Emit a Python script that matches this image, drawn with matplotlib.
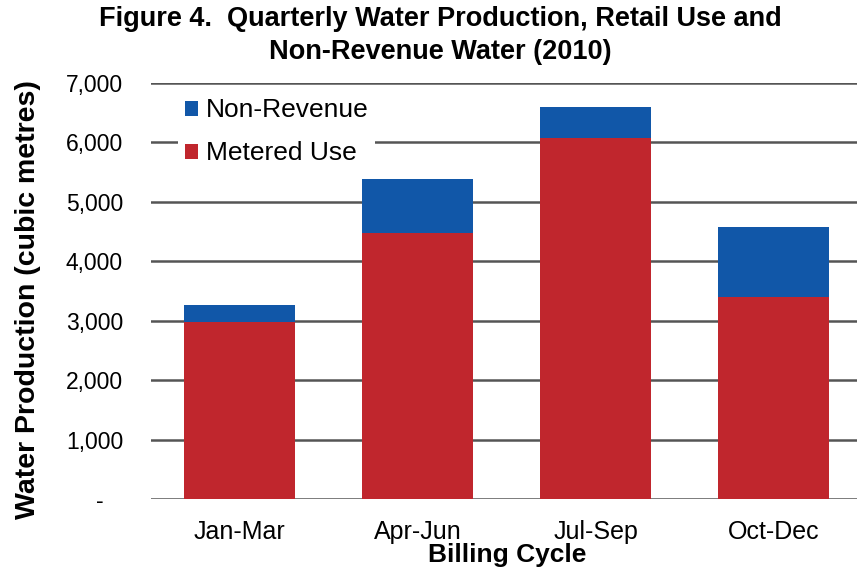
import matplotlib.pyplot as plt
from matplotlib.ticker import FuncFormatter

quarters = ["Jan-Mar", "Apr-Jun", "Jul-Sep", "Oct-Dec"]
metered_use = [2975, 4475, 6075, 3400]
non_revenue = [290, 905, 520, 1175]

red, blue = "#C0262D", "#1157A8"

plt.rcParams["font.family"] = ["Liberation Sans", "DejaVu Sans"]

fig = plt.figure(figsize=(8.57, 5.67), dpi=100)
ax = fig.add_axes([0.176, 0.12, 0.824, 0.734])

x = range(len(quarters))
ax.bar(x, metered_use, width=0.625, color=red, label="Metered Use", zorder=3)
ax.bar(x, non_revenue, width=0.625, bottom=metered_use, color=blue,
       label="Non-Revenue", zorder=3)

ax.set_ylim(0, 7000)
ax.set_xlim(-0.5, 3.47)
ax.set_yticks(range(0, 7001, 1000))
ax.yaxis.set_major_formatter(FuncFormatter(lambda v, _: "-   " if v == 0 else f"{v:,.0f}"))
ax.grid(axis="y", color="#555555", linewidth=1.8, zorder=0)
for s in ax.spines.values():
    s.set_visible(False)
ax.tick_params(axis="y", length=0, labelsize=16.5, pad=20)
ax.tick_params(axis="x", length=0, labelsize=18, pad=15)
ax.set_xticks(list(x))
ax.set_xticklabels(quarters)

ax.set_ylabel("Water Production (cubic metres)", fontsize=20.5, fontweight="bold")
ax.yaxis.set_label_coords(-0.155, 0.478)
ax.set_xlabel("Billing Cycle", fontsize=19, fontweight="bold", va="top")
ax.xaxis.set_label_coords(0.504, -0.107)

fig.suptitle("Figure 4.  Quarterly Water Production, Retail Use and\nNon-Revenue Water (2010)",
             fontsize=19.5, fontweight="bold", y=0.99, x=0.514, linespacing=1.35)

handles, labels = ax.get_legend_handles_labels()
leg = ax.legend(handles[::-1], labels[::-1], loc="upper left", bbox_to_anchor=(0.02, 1.01),
                frameon=True, fontsize=19, handlelength=0.5, handleheight=0.5,
                handletextpad=0.3, labelspacing=0.72, borderpad=0.25)
leg.get_frame().set_edgecolor("none")
leg.get_frame().set_facecolor("white")
leg.get_frame().set_alpha(1)
leg.get_frame().set_boxstyle("square", pad=0)
leg.set_zorder(4)

fig.savefig("out.png", dpi=100)
